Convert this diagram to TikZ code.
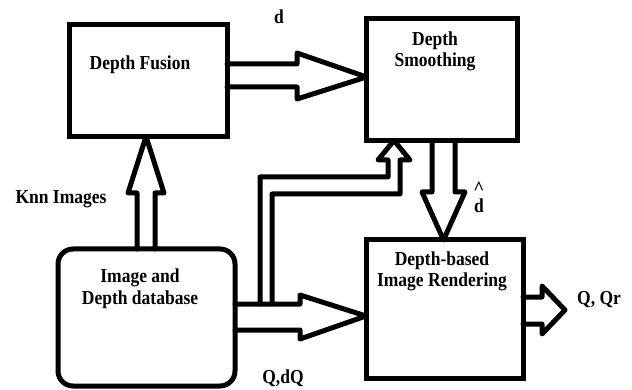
\documentclass[tikz,border=0pt]{standalone}
\usepackage{fontspec}
\usepackage{graphicx}
\setmainfont{Liberation Serif}
\newcommand{\tall}[1]{\scalebox{1}[1.13]{#1}}
\begin{document}
\begin{tikzpicture}[x=1pt,y=-1pt,
  box/.style={draw=black,line width=5pt,inner sep=0pt,outer sep=0pt},
  blk/.style={draw=black,line width=5pt,line join=round,line cap=round},
  lbl/.style={font=\bfseries\fontsize{17.5}{21.5}\selectfont,inner sep=0pt,anchor=base,align=center}]
\useasboundingbox (0,0) rectangle (632,390);
% boxes
\node[box,minimum width=157.5pt,minimum height=112pt] (fusion) at (148.25,80.5) {};
\node[box,minimum width=151pt,minimum height=122pt] (smooth) at (442,79.5) {};
\node[box,rounded corners=15pt,minimum width=177pt,minimum height=137pt] (db) at (146.5,317.5) {};
\node[box,minimum width=157pt,minimum height=138pt] (render) at (444.5,309) {};
% arrow fusion -> smoothing
\draw[blk] (fusion.east |- 0,64) -- (297,64) -- (297,53) -- (smooth.west |- 0,77)
  -- (297,99) -- (297,87) -- (fusion.east |- 0,87);
% arrow db -> fusion
\draw[blk] (db.north -| 137,0) -- (137,193) -- (128,193) -- (fusion.south -| 146,0)
  -- (164,193) -- (155,193) -- (db.north -| 155,0);
% arrow smoothing -> rendering
\draw[blk] (smooth.south -| 432,0) -- (432,192) -- (422,192) -- (render.north -| 443.5,0)
  -- (465,192) -- (455,192) -- (smooth.south -| 455,0);
% arrow db -> rendering
\draw[blk] (db.east |- 0,304) -- (300,304) -- (300,295) -- (render.west |- 0,316)
  -- (300,339) -- (300,330) -- (db.east |- 0,330);
% bent arrow db -> smoothing
\coordinate (bendA) at (260,304);
\coordinate (bendB) at (272,304);
\draw[blk] (bendA) -- (260,177) -- (388,177) -- (388,160) -- (378,160)
  -- (smooth.south -| 394,0) -- (410,160) -- (400,160) -- (400,194) -- (272,194) -- (bendB);
% arrow rendering -> out
\draw[blk] (render.east |- 0,297) -- (542,297) -- (542,286) -- (565,310)
  -- (542,334) -- (542,324) -- (render.east |- 0,324);
% labels
\node[lbl] (tfusion) at (140,70) {\tall{Depth Fusion}};
\node[lbl] (tsmooth) at (435,67) {\tall{Depth}\\\tall{Smoothing}};
\node[lbl] (tdb) at (140,304) {\tall{Image and}\\\tall{Depth database}};
\node[lbl] (trender) at (442,287) {\tall{Depth-based}\\\tall{Image Rendering}};
\node[lbl] (td) at (279,24) {\tall{d}};
\node[lbl] (tknn) at (61,204) {\tall{Knn Images}};
\node[lbl,font=\bfseries\fontsize{19}{19}\selectfont] (tcaret) at (479,195) {\textasciicircum};
\node[lbl] (tdhat) at (479,213) {\tall{d}};
\node[lbl] (tqqr) at (599,305) {\tall{Q, Qr}};
\node[lbl] (tqdq) at (283,383) {\tall{Q,dQ}};
\end{tikzpicture}
\end{document}
